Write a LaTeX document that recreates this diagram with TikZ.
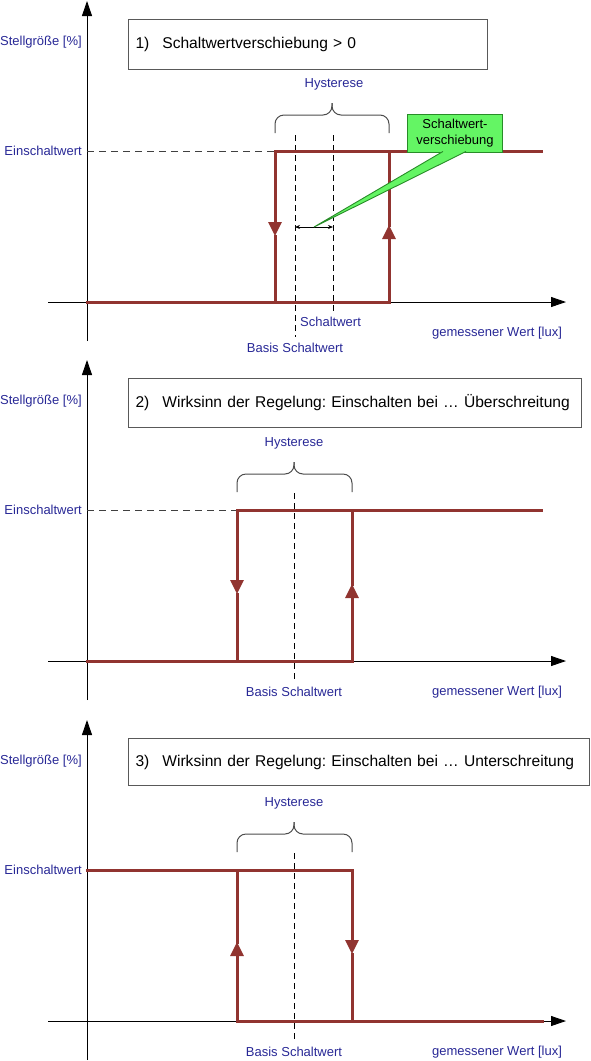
\documentclass[tikz,border=0pt]{standalone}
\usepackage{fontspec}
\setmainfont{Liberation Sans}
\usetikzlibrary{arrows.meta}

\definecolor{hystred}{RGB}{145,52,48}
\definecolor{lblblue}{RGB}{40,40,150}
\definecolor{calloutfill}{RGB}{100,245,100}
\definecolor{calloutline}{RGB}{40,140,40}

\begin{document}
\begin{tikzpicture}[x=1pt,y=-1pt,
	axis/.style={black,line width=0.9pt,-{Triangle[length=15pt,width=10pt]}},
	hyst/.style={draw=hystred,line width=3pt,line cap=rect},
	hystarrow/.style={hyst,-{Triangle[length=14pt,width=13pt]}},
	guide/.style={black,line width=0.7pt,dash pattern=on 6pt off 4pt},
	level/.style={black!75,line width=1pt,dash pattern=on 7pt off 5pt},
	bracket/.style={black!70,line width=1pt,rounded corners=9pt},
	lbl/.style={text=lblblue,font=\fontsize{13}{15}\selectfont,inner sep=0pt},
	titlebox/.style={draw=black!65,line width=1pt,anchor=north west,align=left,
		inner xsep=7pt,inner ysep=0pt,font=\fontsize{15.6}{19}\selectfont\frenchspacing},
	calloutbox/.style={fill=calloutfill,draw=calloutline,line width=0.9pt,
		minimum width=95pt,minimum height=38pt,align=center,
		font=\fontsize{13}{16}\selectfont}]
	\useasboundingbox (0,0) rectangle (590,1061);
	% axes and labels of the three panels
	\foreach \dy/\n in {0/1,359/2,719/3}{
		\begin{scope}[yshift=-\dy pt]
			\coordinate (ytop\n) at (87,1);
			\coordinate (ybot\n) at (87,341);
			\coordinate (xleft\n) at (48,302);
			\coordinate (xright\n) at (566,302);
			\draw[axis] (ybot\n) -- (ytop\n);
			\draw[axis] (xleft\n) -- (xright\n);
			\node[lbl,anchor=east] (stell\n) at (82,42) {Stellgröße [\%]};
			\node[lbl,anchor=east] (ein\n) at (82,151) {Einschaltwert};
			\node[lbl] (gem\n) at (497,333) {gemessener Wert [lux]};
		\end{scope}
	}

	% 1) Schaltwertverschiebung
	\node[titlebox,minimum height=50pt,text width=345pt] (title1) at (128,19)
		{\mbox{1)\hspace{13pt}Schaltwertverschiebung > 0}};
	\node[lbl] (hyst1) at (334,84) {Hysterese};
	\draw[bracket] (275,133) -- (275,115) -- (332,115) -- (332,103);
	\draw[bracket] (389,133) -- (389,115) -- (332,115) -- (332,103);
	\draw[guide] (295,135) -- (295,337);
	\draw[guide] (333,135) -- (333,312);
	\node[lbl,anchor=west] (schalt1) at (300,322) {Schaltwert};
	\node[lbl] (basis1) at (295,348) {Basis Schaltwert};
	\coordinate (a1) at (87,302);
	\coordinate (b1) at (275,302);
	\coordinate (c1) at (389,302);
	\coordinate (d1) at (275,151);
	\coordinate (e1) at (389,151);
	\coordinate (f1) at (541,151);
	\coordinate (dn1) at (275,236);
	\coordinate (up1) at (389,225);
	\draw[level] (87,151) -- (d1);
	\draw[hyst] (a1) -- (c1);
	\draw[hyst] (d1) -- (f1);
	\draw[hystarrow] (d1) -- (dn1);
	\draw[hyst] (dn1) -- (b1);
	\draw[hystarrow] (c1) -- (up1);
	\draw[hyst] (up1) -- (e1);
	\coordinate (sl) at (295,227);
	\coordinate (sr) at (333,227);
	\draw[black,line width=0.8pt,{Stealth[length=5pt,width=4pt]}-{Stealth[length=5pt,width=4pt]}] (sl) -- (sr);
	\node[calloutbox] (verschiebung) at (455,133) {Schaltwert-\\verschiebung};
	\coordinate (cbl) at ([xshift=-12pt,yshift=1pt]verschiebung.south);
	\coordinate (cbr) at ([xshift=11pt,yshift=1pt]verschiebung.south);
	\coordinate (ctip) at (314,227);
	\fill[calloutfill] (cbl) -- (ctip) -- (cbr) -- cycle;
	\draw[calloutline,line width=0.9pt] (cbl) -- (ctip) -- (cbr);

	% 2) Einschalten bei Ueberschreitung
	\begin{scope}[yshift=-359pt]
		\node[titlebox,minimum height=49pt,text width=439pt] (title2) at (128,19)
			{\mbox{2)\hspace{13pt}Wirksinn der Regelung: Einschalten bei … Überschreitung}};
		\node[lbl] (hyst2) at (294,84) {Hysterese};
		\draw[bracket] (237,133) -- (237,115) -- (294,115) -- (294,103);
		\draw[bracket] (352,133) -- (352,115) -- (294,115) -- (294,103);
		\draw[guide] (294,134) -- (294,321);
		\node[lbl] (basis2) at (294,333) {Basis Schaltwert};
		\coordinate (a2) at (87,302);
		\coordinate (b2) at (237,302);
		\coordinate (c2) at (352,302);
		\coordinate (d2) at (237,151);
		\coordinate (e2) at (352,151);
		\coordinate (f2) at (541,151);
		\coordinate (dn2) at (237,235);
		\coordinate (up2) at (352,225);
		\draw[level] (87,151) -- (d2);
		\draw[hyst] (a2) -- (c2);
		\draw[hyst] (d2) -- (f2);
		\draw[hystarrow] (d2) -- (dn2);
		\draw[hyst] (dn2) -- (b2);
		\draw[hystarrow] (c2) -- (up2);
		\draw[hyst] (up2) -- (e2);
	\end{scope}

	% 3) Einschalten bei Unterschreitung
	\begin{scope}[yshift=-719pt]
		\node[titlebox,minimum height=47pt,text width=447pt] (title3) at (128,19)
			{\mbox{3)\hspace{13pt}Wirksinn der Regelung: Einschalten bei … Unterschreitung}};
		\node[lbl] (hyst3) at (294,84) {Hysterese};
		\draw[bracket] (237,133) -- (237,115) -- (294,115) -- (294,103);
		\draw[bracket] (352,133) -- (352,115) -- (294,115) -- (294,103);
		\draw[guide] (294,134) -- (294,321);
		\node[lbl] (basis3) at (294,333) {Basis Schaltwert};
		\coordinate (a3) at (87,151);
		\coordinate (b3) at (237,151);
		\coordinate (c3) at (352,151);
		\coordinate (d3) at (237,302);
		\coordinate (e3) at (352,302);
		\coordinate (f3) at (542,302);
		\coordinate (up3) at (237,223);
		\coordinate (dn3) at (352,235);
		\draw[hyst] (a3) -- (c3);
		\draw[hyst] (d3) -- (f3);
		\draw[hystarrow] (d3) -- (up3);
		\draw[hyst] (up3) -- (b3);
		\draw[hystarrow] (c3) -- (dn3);
		\draw[hyst] (dn3) -- (e3);
	\end{scope}
\end{tikzpicture}
\end{document}
